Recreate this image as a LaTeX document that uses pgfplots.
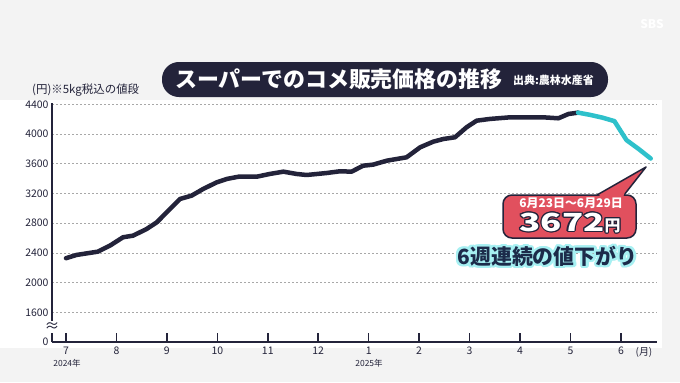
\documentclass[border=0pt]{standalone}
\usepackage{fontspec}
\setmainfont{Noto Sans CJK JP}
\usepackage{graphicx}
\usepackage{pgfplots}
\pgfplotsset{compat=1.18}
\usepackage[copies]{contour}
\definecolor{navy}{HTML}{23233A}
\definecolor{cyanline}{HTML}{2EC1CB}
\definecolor{bggray}{HTML}{F3F3F3}
\definecolor{redbox}{HTML}{E1505E}
\definecolor{glow}{HTML}{A6F0F2}
\definecolor{gridgray}{HTML}{A8A8A8}
\definecolor{textnavy}{HTML}{1C2B4A}
\begin{document}
\begin{tikzpicture}[x=1bp,y=1bp]
\useasboundingbox (-52,-40) rectangle (628,342);
\fill[bggray] (-52,-40) rectangle (628,342);
\fill[white] (-52,-6) rectangle (610,242);
% title bar
\fill[navy, rounded corners=17] (110,245) rectangle (556,280);
\node[anchor=west, text=white, font=\fontsize{22}{22}\selectfont\bfseries, inner sep=0] at (123,262.5) {スーパーでのコメ販売価格の推移};
\node[anchor=west, text=white, font=\fontsize{11}{11}\selectfont\bfseries, inner sep=0] at (461,261.5) {出典:農林水産省};
\node[anchor=west, text=navy, font=\fontsize{11.5}{11.5}\selectfont, inner sep=0] at (-20,252) {(円)※5kg税込の値段};
\node[text=white, font=\bfseries\fontsize{12}{12}\selectfont] at (600,318) {SBS};
\begin{axis}[
  at={(0,0)}, anchor=south west,
  scale only axis, width=605bp, height=239bp,
  xmin=-0.2775, xmax=11.715, ymin=1200, ymax=4420,
  axis x line=bottom, axis y line=left,
  axis line style={-, line width=2bp, draw=navy},
  xtick={0,...,11}, xticklabels={7,8,9,10,11,12,1,2,3,4,5,6},
  ytick={1200,1600,2000,2400,2800,3200,3600,4000,4400},
  yticklabels={0,1600,2000,2400,2800,3200,3600,4000,4400},
  ymajorgrids,
  grid style={draw=gridgray, line width=0.8bp, dash pattern=on 2bp off 2bp},
  tick align=inside, major tick length=9bp,
  xtick style={line width=1.5bp, draw=navy},
  ytick style={draw=none},
  tick label style={font=\fontsize{10.5}{10.5}\selectfont, text=navy},
  xticklabel style={yshift=-1.5bp},
  /pgf/number format/assume math mode=true,
]
\addplot[navy, line width=4.5bp, line join=round, line cap=round] coordinates {
(0,2329) (0.21,2373) (0.63,2417) (0.87,2498) (1.13,2611) (1.33,2633)
(1.60,2723) (1.80,2813) (2.03,2970) (2.26,3127) (2.49,3172) (2.72,3262)
(2.99,3352) (3.19,3397) (3.42,3427) (3.78,3427) (4.04,3464) (4.31,3495)
(4.57,3464) (4.77,3450) (5.17,3477) (5.43,3500) (5.66,3495) (5.89,3575)
(6.09,3590) (6.36,3643) (6.75,3688) (7.02,3823) (7.28,3899) (7.48,3935)
(7.71,3958) (7.94,4093) (8.14,4182) (8.40,4205) (8.80,4227) (9.46,4227)
(9.76,4214) (9.96,4272) (10.15,4290)
};
\addplot[cyanline, line width=4.5bp, line join=round, line cap=round] coordinates {
(10.15,4290) (10.39,4260) (10.63,4223) (10.87,4176) (11.11,3920) (11.35,3801) (11.59,3672)
};
\end{axis}
% axis break
\fill[white] (-5,9) rectangle (5,21);
\node[text=navy, font=\fontsize{15}{15}\selectfont] at (0,15) {≈};
% year and unit labels
\node[text=navy, font=\fontsize{8.5}{8.5}\selectfont] at (15,-21) {2024年};
\node[text=navy, font=\fontsize{8.5}{8.5}\selectfont] at (317,-21) {2025年};
\node[text=navy, font=\fontsize{10}{10}\selectfont] at (592,-10) {(月)};
% callout
\filldraw[fill=redbox, draw=navy, line width=1.5bp, rounded corners=9] (451,104) rectangle (584,147);
\fill[redbox] (545,147) -- (594,175) -- (572,147) -- cycle;
\draw[navy, line width=1.5bp, line join=round] (545,147) -- (594,175) -- (572,147);
\fill[redbox] (546.5,145.4) -- (571.2,145.4) -- (572.5,149) -- (550.5,149) -- cycle;
\node[text=white, inner sep=0, font=\fontsize{12}{12}\selectfont\bfseries] at (519,138.5) {6月23日～6月29日};
\contourlength{1.2pt}\contournumber{12}
\node[text=white, inner sep=0] at (518,118.5) {\contour{navy}{\scalebox{1.4}[1]{\fontsize{25}{25}\selectfont\bfseries 3672}\fontsize{16}{16}\selectfont\bfseries 円}};
\contourlength{2.4pt}\contournumber{16}
\node[text=textnavy, inner sep=0] at (495.5,84.5) {\contour{glow}{\fontsize{21}{21}\selectfont\bfseries 6週連続の値下がり}};
\end{tikzpicture}
\end{document}
